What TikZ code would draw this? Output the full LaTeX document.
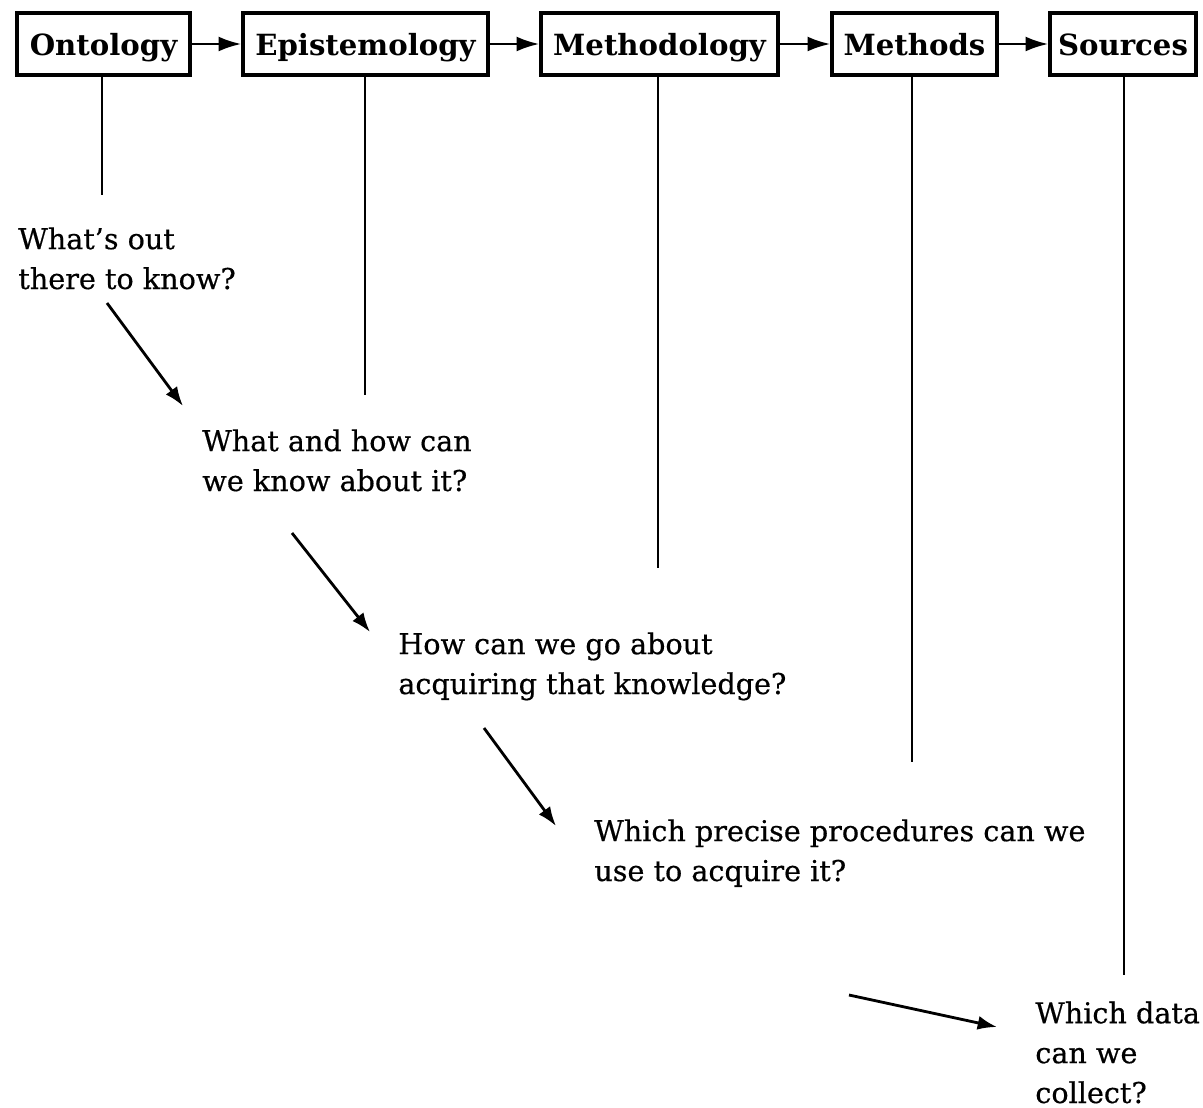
\documentclass[tikz,border=0pt]{standalone}
\usepackage{fontspec}
\setmainfont{DejaVu Serif}
\newfontfamily\askfont[FakeBold=0.5, Ligatures=TeX]{DejaVu Serif}
\usetikzlibrary{arrows.meta}
\begin{document}
\begin{tikzpicture}[x=0.02cm, y=-0.02cm,
    >={Latex[length=11pt,width=8pt]},
    stage/.style={draw, line width=1.8pt, minimum height=1.24cm, inner sep=0pt,
                  text height=15pt, text depth=2pt,
                  font=\fontsize{16.6}{20}\selectfont\bfseries},
    question/.style={anchor=base west, inner sep=0pt, align=left,
                     font=\fontsize{16.3}{22.7}\askfont},
    link/.style={line width=1.6pt},
    step arrow/.style={link, -{Latex[length=13pt,width=8.5pt]}}]
\useasboundingbox (0,0) rectangle (1203,1108);
% nodes
\node[stage, minimum width=3.46cm] (onto)  at (103.5, 44) {Ontology};
\node[stage, minimum width=4.90cm] (epis)  at (365.5, 44) {Epistemology};
\node[stage, minimum width=4.74cm] (meth)  at (659.5, 44) {Methodology};
\node[stage, minimum width=3.30cm] (mtds)  at (914.5, 44) {Methods};
\node[stage, minimum width=2.92cm] (srcs)  at (1123, 44) {Sources};
% (base = last line)
\node[question] (q1) at (18, 289)  {What’s out\\there to know?};
\node[question] (q2) at (202, 491) {What and how can\\we know about it?};
\node[question] (q3) at (398, 694) {How can we go about\\acquiring that knowledge?};
\node[question] (q4) at (594, 881) {Which precise procedures can we\\use to acquire it?};
\node[question] (q5) at (1035, 1103) {Which data\\can we\\collect?};
% line ends
\coordinate (e1) at (102, 195);
\coordinate (e2) at (365, 395);
\coordinate (e3) at (658, 568);
\coordinate (e4) at (912, 762);
\coordinate (e5) at (1124, 975);
\coordinate (a1) at (107, 303);  \coordinate (b1) at (183, 406);
\coordinate (a2) at (292, 533);  \coordinate (b2) at (370, 632);
\coordinate (a3) at (484, 728);  \coordinate (b3) at (556, 826);
\coordinate (a4) at (849, 995);  \coordinate (b4) at (997, 1027);
% arrows
\draw[step arrow] (onto) -- (epis);
\draw[step arrow] (epis) -- (meth);
\draw[step arrow] (meth) -- (mtds);
\draw[step arrow] (mtds) -- (srcs);
\draw[link] (onto.south -| e1) -- (e1);
\draw[link] (epis.south -| e2) -- (e2);
\draw[link] (meth.south -| e3) -- (e3);
\draw[link] (mtds.south -| e4) -- (e4);
\draw[link] (srcs.south -| e5) -- (e5);
\draw[link, ->] (a1) -- (b1);
\draw[link, ->] (a2) -- (b2);
\draw[link, ->] (a3) -- (b3);
\draw[link, ->] (a4) -- (b4);
\end{tikzpicture}
\end{document}
